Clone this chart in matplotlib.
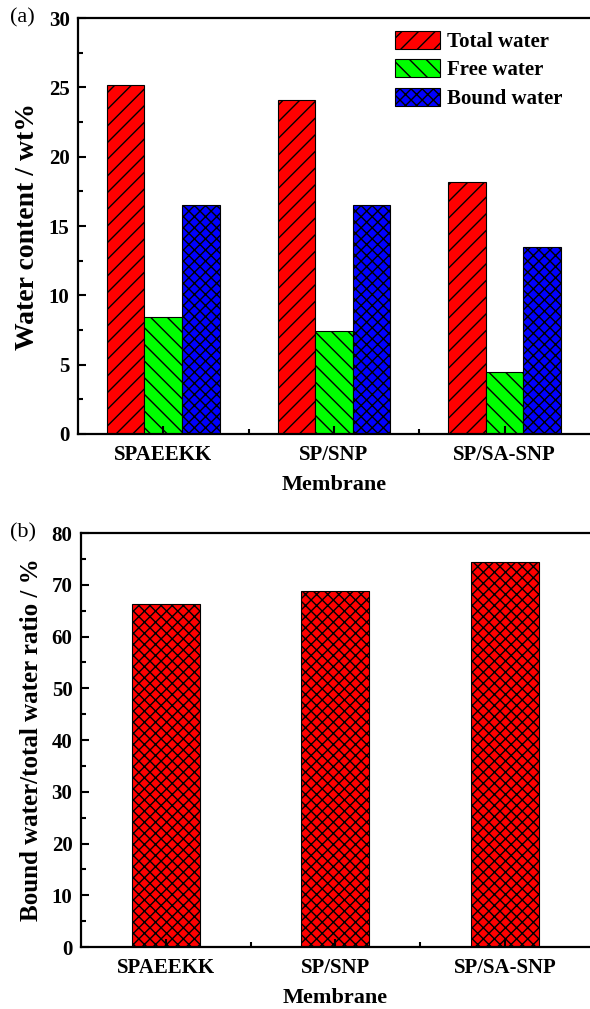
"""Water content of the membranes (a) and bound/total water ratio (b)."""

import matplotlib

matplotlib.use("Agg")
import matplotlib.pyplot as plt
import numpy as np

membranes = ["SPAEEKK", "SP/SNP", "SP/SA-SNP"]
total_water = [25.2, 24.1, 18.2]
free_water = [8.4, 7.4, 4.5]
bound_water = [16.5, 16.5, 13.5]
bound_ratio = [66.2, 68.8, 74.4]

plt.rcParams["font.family"] = ["Liberation Serif", "DejaVu Serif"]
plt.rcParams["font.weight"] = "bold"
plt.rcParams["hatch.linewidth"] = 1.0


def style_axis(axis, y_major, y_minor):
    for side in ("left", "bottom", "top"):
        axis.spines[side].set_linewidth(1.6)
    axis.spines["right"].set_visible(False)
    axis.set_xlim(0.5, 3.5)
    axis.set_xticks(np.arange(1, 4))
    axis.set_xticks([1.5, 2.5], minor=True)
    axis.set_xticklabels(membranes, fontsize=15, fontweight="bold")
    axis.set_yticks(y_major)
    axis.set_yticks(y_minor, minor=True)
    axis.tick_params(which="both", direction="in", width=1.5, labelsize=15, top=False, right=False)
    axis.tick_params(which="major", length=6, pad=6)
    axis.tick_params(which="minor", length=3.5)
    axis.tick_params(axis="x", which="major", pad=8)
    for label in axis.get_yticklabels():
        label.set_fontweight("bold")
    axis.set_xlabel("Membrane", fontsize=16, fontweight="bold", labelpad=7)


fig = plt.figure(figsize=(5.9, 10.09), dpi=100)
ax_a = fig.add_axes([0.132, 0.570, 0.868, 0.412])
ax_b = fig.add_axes([0.137, 0.0614, 0.863, 0.4103])

x = np.arange(1, 4)
width = 0.22
series = [
    (total_water, "#ff0000", "//", "Total water", -width),
    (free_water, "#00ff00", "\\\\", "Free water", 0.0),
    (bound_water, "#0000ff", "xxx", "Bound water", width),
]
for values, color, hatch, label, offset in series:
    ax_a.bar(x + offset, values, width, color=color, hatch=hatch,
             edgecolor="black", linewidth=0.8, label=label)
ax_a.set_ylim(0, 30)
style_axis(ax_a, np.arange(0, 31, 5), np.arange(2.5, 30, 5))
ax_a.set_ylabel("Water content / wt%", fontsize=20, fontweight="bold", labelpad=6)
ax_a.legend(loc="upper right", frameon=False, fontsize=15, handlelength=2.2,
            handleheight=0.95, labelspacing=0.35, handletextpad=0.3,
            borderaxespad=0.2, bbox_to_anchor=(0.97, 1.0))

ax_b.bar(x, bound_ratio, 0.4, color="#ff0000", hatch="xxx", edgecolor="black", linewidth=0.8)
ax_b.set_ylim(0, 80)
style_axis(ax_b, np.arange(0, 81, 10), np.arange(5, 80, 10))
ax_b.set_ylabel("Bound water/total water ratio / %", fontsize=18, fontweight="bold", labelpad=6)

fig.text(0.017, 0.982, "(a)", fontsize=16, fontweight="normal", va="center")
fig.text(0.017, 0.472, "(b)", fontsize=16, fontweight="normal", va="center")

fig.savefig("out.png", dpi=100)
plt.close(fig)
